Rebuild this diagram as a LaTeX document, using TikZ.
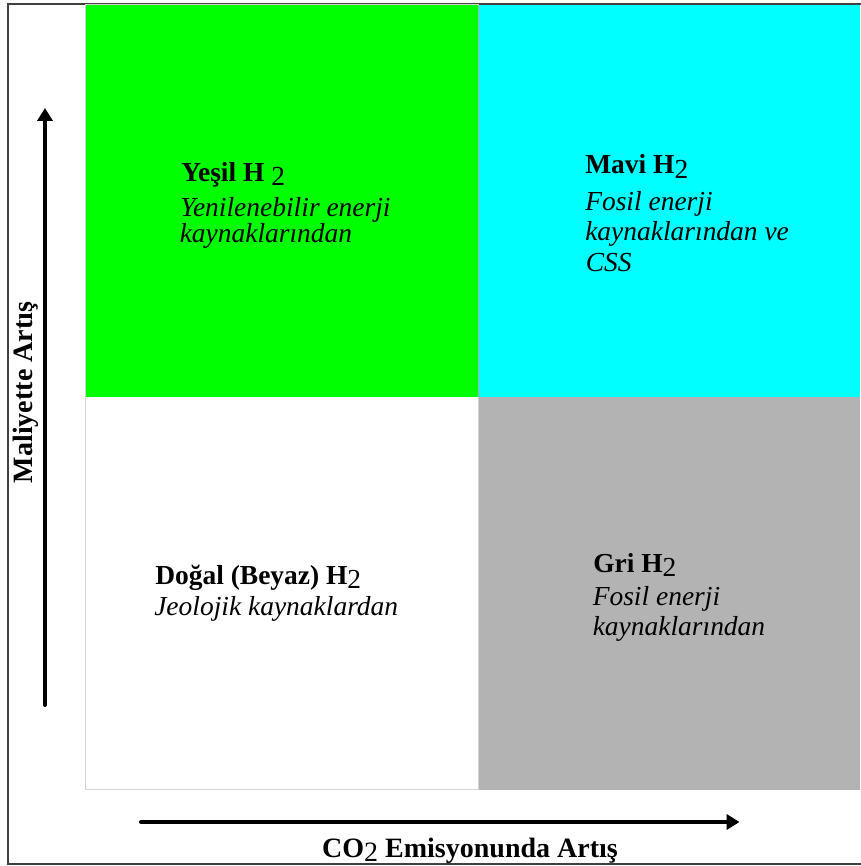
\documentclass[tikz,border=0pt]{standalone}
\usepackage{fontspec}
\setmainfont{Liberation Serif}
\usetikzlibrary{arrows.meta}
\definecolor{qgreen}{HTML}{00FF00}
\definecolor{qcyan}{HTML}{00FFFF}
\definecolor{qgray}{HTML}{B3B3B3}
\definecolor{qline}{HTML}{B0B0B0}
\definecolor{qlight}{HTML}{D4D4D4}
\definecolor{frame}{HTML}{404040}
\newcommand\hsub{\raisebox{-0.16em}{\mdseries 2}}
\tikzset{
  quad/.style={line width=0.75pt},
  title/.style={anchor=base west, inner sep=0pt, font=\fontsize{20.6pt}{23pt}\selectfont\bfseries},
  desc/.style={anchor=base west, inner sep=0pt, font=\fontsize{20.6pt}{23pt}\selectfont\itshape},
  axislabel/.style={anchor=base, inner sep=0pt, font=\fontsize{21pt}{24pt}\selectfont\bfseries},
  axisarrow/.style={line width=3pt, line cap=round, -{Triangle[length=9.6pt,width=11.2pt]}}
}
\begin{document}
\begin{tikzpicture}[x=0.75pt,y=-0.75pt]
\useasboundingbox (0,0) rectangle (860,866);
\fill[white] (0,0) rectangle (860,866);
% outer frame
\draw[frame, line width=1.1pt] (8,4) rectangle (864,864);
% quadrants
\fill[qgreen] (85,5) rectangle (478.5,397);
\fill[qcyan] (478.5,5) rectangle (860,397);
\fill[white] (85,397) rectangle (478.5,789);
\fill[qgray] (478.5,397) rectangle (860,789);
\draw[quad, qlight] (85,5) rectangle (478.5,789);
\draw[quad, qline] (478.5,5) -- (478.5,397);
\draw[quad, qline] (478.5,789) -- (860,789);
% texts
\node[title] (yesil) at (181,181.5) {Yeşil H \hsub};
\node[desc] (yesil1) at (180,216.5) {Yenilenebilir enerji};
\node[desc] (yesil2) at (179.5,242) {kaynaklarından};
\node[title] (mavi) at (585,174) {Mavi H\hsub};
\node[desc] (mavi1) at (585,210) {Fosil enerji};
\node[desc] (mavi2) at (585,240.5) {kaynaklarından ve};
\node[desc] (mavi3) at (585.5,271) {CSS};
\node[title] (dogal) at (155,584) {Doğal (Beyaz) H\hsub};
\node[desc] (dogal1) at (154,615) {Jeolojik kaynaklardan};
\node[title] (gri) at (593,572) {Gri H\hsub};
\node[desc] (gri1) at (592.5,605) {Fosil enerji};
\node[desc] (gri2) at (592.5,635.5) {kaynaklarından};
% axes
\coordinate (vstart) at (45,705);
\coordinate (vend) at (45,108);
\coordinate (hstart) at (141,822);
\coordinate (hend) at (739.5,822);
\draw[axisarrow] (vstart) -- (vend);
\draw[axisarrow] (hstart) -- (hend);
\node[axislabel] (xlab) at (470,857) {CO\hsub{} Emisyonunda Artış};
\node[axislabel, rotate=90] (ylab) at (32,392.5) {Maliyette Artış};
\end{tikzpicture}
\end{document}
